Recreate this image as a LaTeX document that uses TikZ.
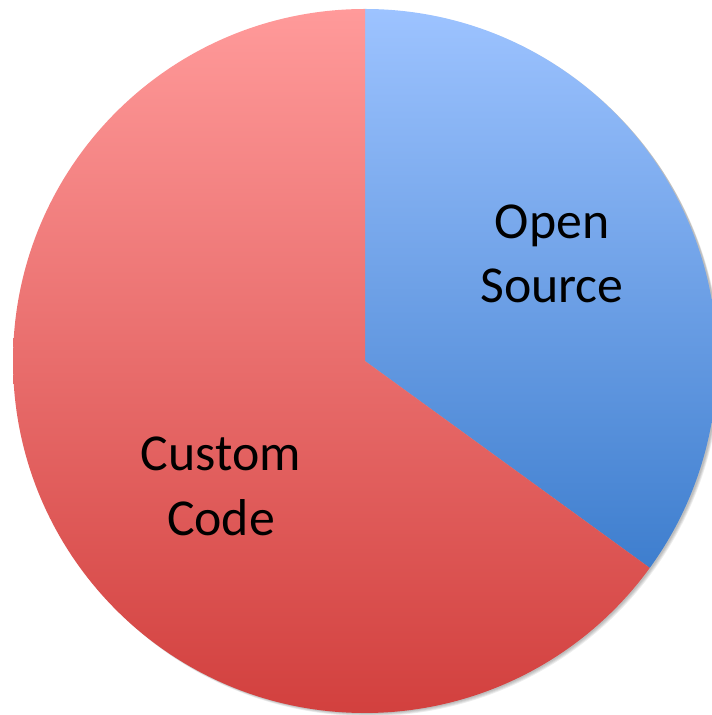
\documentclass[tikz,border=0pt]{standalone}
\usepackage{fontspec}
\setmainfont{Carlito}
\definecolor{redtop}{RGB}{255,154,154}
\definecolor{redbot}{RGB}{210,64,62}
\definecolor{bluetop}{RGB}{157,195,255}
\definecolor{bluebot}{RGB}{62,126,206}
\begin{document}
\begin{tikzpicture}[x=1bp,y=1bp,
	slice/.style={draw=none},
	label/.style={align=center, font=\fontsize{52}{65}\selectfont}]
	\useasboundingbox (0,0) rectangle (712,715);

	%Shadow
	\foreach \s in {1,2,3,4}
		\fill[black, opacity=0.07] (366+0.6*\s,354-0.8*\s) circle (352);

	%Slices
	\coordinate (c) at (365,354);
	\shade[slice, top color=bluetop, bottom color=bluebot] (c) -- ++(90:352) arc (90:-36:352) -- cycle;
	\shade[slice, top color=redtop, bottom color=redbot] (c) -- ++(90:352) arc (90:324:352) -- cycle;

	%Labels
	\node[label] (os) at (552,461) {Open\\Source};
	\node[label] (cc) at (221,229) {Custom\\Code};
\end{tikzpicture}
\end{document}
